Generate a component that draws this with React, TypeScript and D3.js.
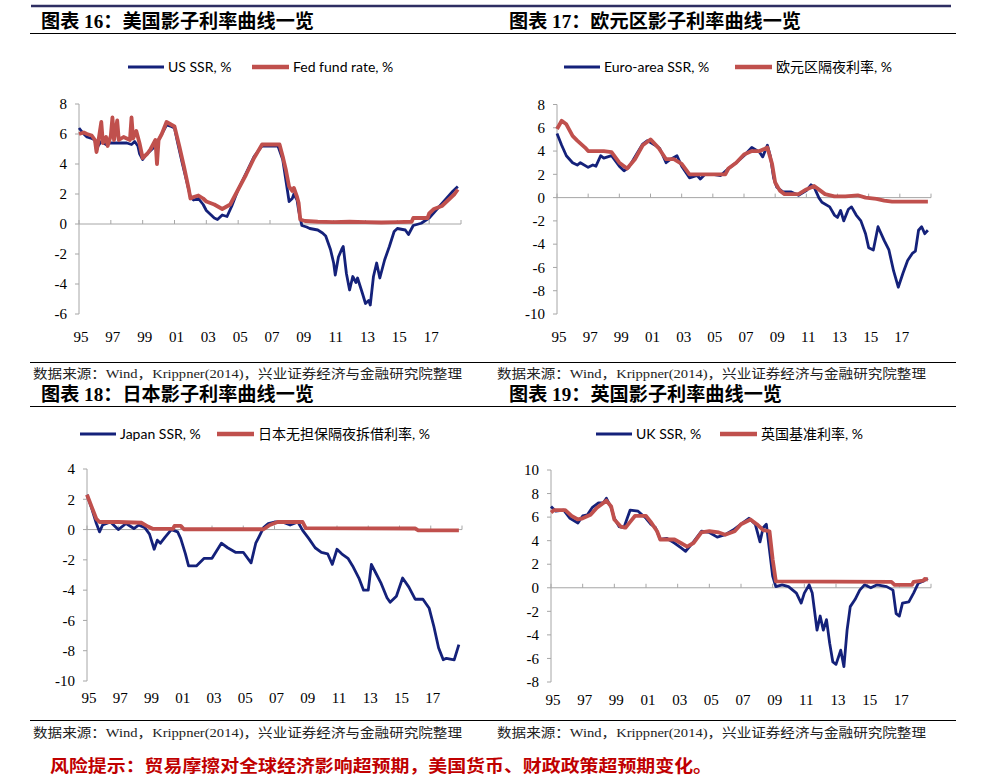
import React from "react";
import * as d3 from "d3";

type Pt = [number, number];

// ---------- DATA ----------
const yearTicks = [1995, 1997, 1999, 2001, 2003, 2005, 2007, 2009, 2011, 2013, 2015, 2017, 2019];
const yearLabels = ["95", "97", "99", "01", "03", "05", "07", "09", "11", "13", "15", "17", ""];

const usTicks = [8, 6, 4, 2, 0, -2, -4, -6];
const euTicks = [8, 6, 4, 2, 0, -2, -4, -6, -8, -10];
const jpTicks = [4, 2, 0, -2, -4, -6, -8, -10];
const ukTicks = [10, 8, 6, 4, 2, 0, -2, -4, -6, -8];

const usSSR: Pt[] = [
  [1995.0, 6.4], [1995.3, 6.0], [1995.5, 5.8], [1995.8, 5.7], [1996.0, 5.6], [1996.1, 4.9], [1996.2, 5.2],
  [1996.4, 5.5], [1996.7, 5.3], [1997.0, 5.4], [1997.5, 5.4], [1998.0, 5.4], [1998.3, 5.3], [1998.5, 5.5],
  [1998.7, 5.2], [1998.8, 4.7], [1999.0, 4.3], [1999.2, 4.6], [1999.5, 4.9], [1999.8, 5.2], [2000.0, 5.6],
  [2000.3, 6.2], [2000.5, 6.6], [2000.8, 6.5], [2001.0, 6.4], [2001.2, 5.4], [2001.5, 4.0], [2001.8, 2.7],
  [2002.0, 1.8], [2002.2, 1.6], [2002.5, 1.7], [2002.8, 1.3], [2003.0, 0.9], [2003.3, 0.6], [2003.5, 0.4],
  [2003.7, 0.3], [2004.0, 0.6], [2004.3, 0.5], [2004.6, 1.2], [2005.0, 2.3], [2005.5, 3.4], [2006.0, 4.5],
  [2006.5, 5.2], [2007.0, 5.2], [2007.5, 5.2], [2007.8, 4.3], [2008.0, 2.9], [2008.2, 1.5], [2008.4, 1.7],
  [2008.5, 2.0], [2008.7, 1.6], [2008.8, 0.9], [2009.0, -0.1], [2009.3, -0.2], [2009.5, -0.3], [2010.0, -0.4],
  [2010.3, -0.6], [2010.5, -0.8], [2010.8, -1.7], [2011.0, -2.6], [2011.1, -3.4], [2011.3, -2.2],
  [2011.5, -1.7], [2011.6, -1.5], [2011.8, -3.3], [2012.0, -4.4], [2012.2, -3.5], [2012.4, -3.9],
  [2012.5, -3.6], [2012.8, -4.6], [2013.0, -5.3], [2013.2, -5.1], [2013.3, -5.4], [2013.5, -3.5],
  [2013.7, -2.6], [2013.9, -3.6], [2014.2, -2.4], [2014.5, -1.5], [2014.8, -0.5], [2015.0, -0.3],
  [2015.5, -0.4], [2015.7, -0.7], [2016.0, -0.1], [2016.5, 0.05], [2017.0, 0.4], [2017.5, 1.0],
  [2018.0, 1.6], [2018.5, 2.2], [2018.8, 2.5],
];
const usFed: Pt[] = [
  [1995.0, 6.0], [1995.3, 6.1], [1995.5, 6.0], [1995.8, 5.9], [1996.0, 5.6], [1996.1, 4.8], [1996.2, 5.4],
  [1996.4, 6.8], [1996.5, 5.4], [1996.7, 5.8], [1996.8, 5.2], [1997.0, 5.9], [1997.1, 7.1], [1997.2, 5.6],
  [1997.4, 6.9], [1997.5, 5.6], [1997.8, 5.8], [1998.0, 5.7], [1998.2, 5.6], [1998.3, 7.1], [1998.4, 5.7],
  [1998.6, 6.2], [1998.8, 5.4], [1999.0, 4.4], [1999.3, 4.7], [1999.5, 5.0], [1999.8, 5.6], [1999.9, 4.0],
  [2000.0, 5.6], [2000.2, 6.0], [2000.5, 6.8], [2001.0, 6.5], [2001.3, 5.2], [2001.6, 3.8], [2001.9, 2.3],
  [2002.0, 1.7], [2002.2, 1.8], [2002.5, 1.9], [2002.8, 1.7], [2003.0, 1.5], [2003.5, 1.3], [2004.0, 1.0],
  [2004.5, 1.3], [2005.0, 2.3], [2005.5, 3.3], [2006.0, 4.4], [2006.5, 5.3], [2007.0, 5.3], [2007.6, 5.3],
  [2007.8, 4.5], [2008.0, 3.6], [2008.2, 2.5], [2008.4, 2.2], [2008.5, 2.4], [2008.7, 1.8], [2008.8, 1.4],
  [2008.9, 0.3], [2009.2, 0.2], [2010.0, 0.15], [2011.0, 0.12], [2012.0, 0.15], [2013.0, 0.12],
  [2014.0, 0.1], [2015.0, 0.12], [2015.9, 0.15], [2016.0, 0.4], [2016.9, 0.4], [2017.0, 0.7], [2017.3, 1.0],
  [2017.8, 1.2], [2018.0, 1.4], [2018.3, 1.7], [2018.6, 2.0], [2018.8, 2.3],
];

const euSSR: Pt[] = [
  [1995.0, 5.5], [1995.3, 4.5], [1995.6, 3.6], [1996.0, 3.0], [1996.3, 2.8], [1996.5, 3.0], [1997.0, 2.6],
  [1997.3, 2.8], [1997.5, 2.7], [1997.8, 3.6], [1998.0, 3.4], [1998.5, 3.6], [1999.0, 2.7], [1999.3, 2.3],
  [1999.6, 2.6], [2000.0, 3.5], [2000.5, 4.6], [2000.8, 4.9], [2001.3, 4.5], [2001.6, 4.2], [2002.0, 3.0],
  [2002.3, 3.3], [2002.7, 3.6], [2003.0, 2.7], [2003.5, 1.7], [2004.0, 1.9], [2004.2, 1.6], [2004.5, 2.0],
  [2005.0, 2.0], [2005.5, 1.9], [2006.0, 2.5], [2006.5, 3.0], [2007.0, 3.6], [2007.5, 4.3], [2008.0, 3.9],
  [2008.2, 3.5], [2008.5, 4.5], [2008.7, 3.5], [2008.9, 1.7], [2009.1, 0.9], [2009.5, 0.5], [2010.0, 0.5],
  [2010.5, 0.2], [2011.0, 0.6], [2011.3, 1.1], [2011.5, 0.9], [2011.8, 0.0], [2012.0, -0.4], [2012.5, -0.8],
  [2012.8, -1.5], [2013.0, -1.7], [2013.2, -1.1], [2013.4, -2.0], [2013.7, -1.0], [2013.9, -0.8],
  [2014.2, -1.5], [2014.5, -2.0], [2014.8, -3.1], [2015.0, -4.3], [2015.3, -4.5], [2015.6, -2.5],
  [2016.0, -3.7], [2016.3, -4.5], [2016.6, -6.3], [2016.9, -7.7], [2017.2, -6.5], [2017.5, -5.4],
  [2017.8, -4.8], [2018.0, -4.6], [2018.2, -2.8], [2018.4, -2.5], [2018.6, -3.1], [2018.8, -2.8],
];
const euON: Pt[] = [
  [1995.0, 5.9], [1995.3, 6.6], [1995.6, 6.3], [1996.0, 5.3], [1996.3, 4.9], [1996.8, 4.3], [1997.0, 4.0],
  [1997.5, 4.0], [1998.0, 4.0], [1998.5, 3.9], [1999.0, 3.0], [1999.5, 2.5], [2000.0, 3.3], [2000.5, 4.5],
  [2001.0, 5.0], [2001.5, 4.3], [2002.0, 3.3], [2002.5, 3.3], [2003.0, 2.9], [2003.5, 2.0], [2004.0, 2.0],
  [2005.0, 2.0], [2005.8, 2.0], [2006.0, 2.5], [2006.5, 3.0], [2007.0, 3.7], [2007.5, 4.0], [2008.0, 4.0],
  [2008.5, 4.3], [2008.8, 2.9], [2009.0, 1.3], [2009.3, 0.6], [2009.6, 0.3], [2010.5, 0.3], [2011.0, 0.7],
  [2011.5, 1.0], [2011.9, 0.6], [2012.2, 0.3], [2012.8, 0.1], [2013.5, 0.1], [2014.3, 0.2], [2014.8, 0.0],
  [2015.5, -0.1], [2016.0, -0.25], [2016.5, -0.35], [2017.5, -0.35], [2018.8, -0.35],
];

const jpSSR: Pt[] = [
  [1995.0, 2.3], [1995.3, 1.4], [1995.6, 0.4], [1995.8, -0.15], [1996.0, 0.3], [1996.5, 0.5], [1997.0, 0.0],
  [1997.5, 0.4], [1998.0, 0.07], [1998.3, 0.3], [1998.7, 0.13], [1999.0, -0.3], [1999.3, -1.3], [1999.5, -0.7],
  [1999.7, -0.9], [2000.0, -0.5], [2000.4, 0.0], [2000.8, -0.15], [2001.0, -0.6], [2001.3, -1.6],
  [2001.5, -2.4], [2002.0, -2.4], [2002.5, -1.9], [2003.0, -1.9], [2003.3, -1.4], [2003.6, -0.9],
  [2004.0, -1.2], [2004.5, -1.5], [2005.0, -1.5], [2005.5, -2.2], [2005.8, -0.9], [2006.0, -0.5],
  [2006.3, 0.13], [2006.6, 0.4], [2007.0, 0.5], [2007.5, 0.5], [2008.0, 0.3], [2008.5, 0.5], [2008.8, -0.05],
  [2009.2, -0.6], [2009.6, -1.2], [2010.0, -1.5], [2010.4, -1.6], [2010.7, -2.3], [2011.0, -1.3],
  [2011.3, -1.6], [2011.7, -1.9], [2012.0, -2.4], [2012.4, -3.2], [2012.7, -4.0], [2013.0, -4.0],
  [2013.2, -2.3], [2013.5, -2.9], [2013.8, -3.5], [2014.2, -4.5], [2014.4, -4.8], [2014.8, -4.4],
  [2015.2, -3.2], [2015.6, -3.8], [2016.0, -4.6], [2016.5, -4.6], [2016.9, -5.2], [2017.2, -6.4],
  [2017.5, -7.8], [2017.8, -8.6], [2018.0, -8.5], [2018.5, -8.6], [2018.8, -7.6],
];
const jpON: Pt[] = [
  [1995.0, 2.3], [1995.3, 1.5], [1995.6, 0.7], [1995.8, 0.5], [1997.0, 0.5], [1998.5, 0.45], [1998.9, 0.2],
  [1999.2, 0.05], [2000.5, 0.05], [2000.6, 0.25], [2001.0, 0.25], [2001.2, 0.02], [2006.3, 0.02],
  [2006.7, 0.3], [2007.2, 0.5], [2008.8, 0.5], [2009.0, 0.1], [2016.0, 0.07], [2016.2, -0.05], [2018.8, -0.05],
];

const ukSSR: Pt[] = [
  [1995.0, 6.9], [1995.3, 6.5], [1995.8, 6.6], [1996.2, 5.9], [1996.7, 5.5], [1997.0, 6.1], [1997.3, 6.2],
  [1997.6, 6.8], [1998.0, 7.2], [1998.3, 7.2], [1998.5, 7.6], [1998.8, 6.8], [1999.0, 5.9], [1999.3, 5.2],
  [1999.6, 5.1], [2000.0, 6.6], [2000.5, 6.5], [2001.0, 5.9], [2001.3, 5.4], [2001.6, 5.1], [2001.9, 4.1],
  [2002.3, 4.2], [2002.8, 3.8], [2003.2, 3.4], [2003.5, 3.1], [2004.0, 3.9], [2004.5, 4.8], [2005.0, 4.7],
  [2005.5, 4.3], [2006.0, 4.5], [2006.5, 4.9], [2007.0, 5.4], [2007.5, 5.9], [2007.9, 5.4], [2008.2, 3.9],
  [2008.4, 5.1], [2008.6, 5.4], [2008.8, 3.2], [2009.0, 1.0], [2009.2, 0.1], [2009.6, 0.25], [2010.0, 0.1],
  [2010.5, -0.45], [2010.8, -1.3], [2011.0, -0.45], [2011.3, 0.25], [2011.5, -0.45], [2011.8, -3.6],
  [2012.0, -2.4], [2012.2, -3.6], [2012.4, -2.7], [2012.6, -4.7], [2012.8, -6.3], [2013.0, -6.5],
  [2013.3, -5.3], [2013.5, -6.7], [2013.7, -3.6], [2013.9, -1.6], [2014.2, -1.0], [2014.5, -0.2],
  [2014.8, 0.25], [2015.2, 0.0], [2015.6, 0.25], [2016.2, 0.1], [2016.6, -0.2], [2016.8, -2.2],
  [2017.0, -2.4], [2017.2, -1.3], [2017.6, -1.2], [2017.9, -0.45], [2018.2, 0.4], [2018.5, 0.55], [2018.8, 0.8],
];
const ukBase: Pt[] = [
  [1995.0, 6.4], [1995.2, 6.6], [1995.9, 6.6], [1996.3, 6.1], [1996.7, 5.8], [1997.0, 5.9], [1997.5, 6.2],
  [1997.9, 6.8], [1998.5, 7.4], [1998.8, 6.9], [1999.0, 5.8], [1999.4, 5.2], [1999.7, 5.1], [2000.0, 5.6],
  [2000.3, 6.1], [2001.0, 6.1], [2001.3, 5.6], [2001.7, 4.8], [2001.9, 4.1], [2002.8, 4.1], [2003.2, 3.8],
  [2003.6, 3.5], [2004.0, 3.8], [2004.5, 4.7], [2005.0, 4.8], [2005.6, 4.7], [2006.0, 4.5], [2006.6, 4.8],
  [2007.0, 5.4], [2007.6, 5.8], [2008.0, 5.4], [2008.4, 4.9], [2008.8, 4.8], [2009.0, 2.4], [2009.2, 0.55],
  [2016.5, 0.5], [2016.7, 0.25], [2017.8, 0.25], [2017.9, 0.5], [2018.5, 0.6], [2018.6, 0.75], [2018.8, 0.7],
];

// ---------- STYLE / LAYOUT ----------
const NAVY = "#14217a";
const RED = "#c0504d";
const AXIS = "#a6a6a6";
const SERIF = "'Liberation Serif','Times New Roman','Noto Sans CJK SC',serif";
const SANS = "Lato,'Noto Sans CJK SC',sans-serif";
const TITLE_FONT = "'Liberation Serif','Noto Sans CJK SC',serif";

type PanelProps = {
  x0: number; x1: number; yTopPx: number; yBotPx: number;
  yTicks: number[]; a: Pt[]; b: Pt[];
  legA: string; legB: string; legY: number;
  legAx: number; legBx: number; labelY: number;
};

function Panel(p: PanelProps) {
  const x = d3.scaleLinear().domain([1995, 2019]).range([p.x0, p.x1]);
  const yMax = d3.max(p.yTicks) as number;
  const yMin = d3.min(p.yTicks) as number;
  const y = d3.scaleLinear().domain([yMin, yMax]).range([p.yBotPx, p.yTopPx]);
  const line = d3.line<Pt>().x((d) => x(d[0])).y((d) => y(d[1])).curve(d3.curveLinear);
  const y0 = y(0);
  return (
    <g>
      {/* legend */}
      <line x1={p.legAx} x2={p.legAx + 36} y1={p.legY} y2={p.legY} stroke={NAVY} strokeWidth={2.8} />
      <text x={p.legAx + 40} y={p.legY} dy="0.35em" fontFamily={SANS} fontSize={14} fill="#000">{p.legA}</text>
      <line x1={p.legBx} x2={p.legBx + 37} y1={p.legY} y2={p.legY} stroke={RED} strokeWidth={4.5} />
      <text x={p.legBx + 41} y={p.legY} dy="0.35em" fontFamily={SANS} fontSize={14} fill="#000">{p.legB}</text>
      {/* y axis */}
      <line x1={p.x0} x2={p.x0} y1={y(yMax)} y2={y(yMin)} stroke={AXIS} strokeWidth={1} />
      {p.yTicks.map((t) => (
        <g key={t}>
          <line x1={p.x0 - 4} x2={p.x0} y1={y(t)} y2={y(t)} stroke={AXIS} />
          <text x={p.x0 - 12} y={y(t)} dy="0.35em" textAnchor="end" fontFamily={SERIF} fontSize={15} fill="#000">{t}</text>
        </g>
      ))}
      {/* x axis at zero */}
      <line x1={p.x0} x2={p.x1} y1={y0} y2={y0} stroke={AXIS} strokeWidth={1} />
      {yearTicks.map((t, i) => (
        <g key={t}>
          <line x1={x(t)} x2={x(t)} y1={y0 - 4} y2={y0} stroke={AXIS} />
          <text x={x(t) + 2} y={p.labelY} dy="0.35em" textAnchor="middle" fontFamily={SERIF} fontSize={15} fill="#000">{yearLabels[i]}</text>
        </g>
      ))}
      <path d={line(p.a) || ""} fill="none" stroke={NAVY} strokeWidth={2.8} strokeLinejoin="round" />
      <path d={line(p.b) || ""} fill="none" stroke={RED} strokeWidth={3.8} strokeLinejoin="round" />
    </g>
  );
}

const SOURCE = "数据来源：Wind，Krippner(2014)，兴业证券经济与金融研究院整理";

export default function App() {
  return (
    <svg width={988} height={783} style={{ position: "absolute", left: 0, top: 0, background: "#fff" }}>
      <rect x={0} y={0} width={988} height={783} fill="#fff" />
      {/* top rule */}
      <line x1={31} x2={951} y1={6} y2={6} stroke="#2e2e62" strokeWidth={2.5} />
      <text x={41} y={21} dy="0.35em" fontFamily={TITLE_FONT} fontWeight="bold" fontSize={19} textLength={273} lengthAdjust="spacingAndGlyphs">图表 16：美国影子利率曲线一览</text>
      <text x={509} y={21} dy="0.35em" fontFamily={TITLE_FONT} fontWeight="bold" fontSize={19} textLength={292} lengthAdjust="spacingAndGlyphs">图表 17：欧元区影子利率曲线一览</text>
      <line x1={30} x2={956} y1={33.5} y2={33.5} stroke="#000" strokeWidth={1} />

      <Panel x0={79} x1={461} yTopPx={104} yBotPx={314} yTicks={usTicks} a={usSSR} b={usFed}
        legA="US SSR, %" legB="Fed fund rate, %" legY={67} legAx={128} legBx={252} labelY={337} />
      <Panel x0={557} x1={931} yTopPx={104.5} yBotPx={314} yTicks={euTicks} a={euSSR} b={euON}
        legA="Euro-area SSR, %" legB="欧元区隔夜利率, %" legY={67} legAx={564} legBx={735} labelY={337} />

      <line x1={30} x2={956} y1={362.5} y2={362.5} stroke="#000" strokeWidth={1} />
      <text x={33} y={373} dy="0.35em" fontFamily={TITLE_FONT} fontSize={13} fill="#222" textLength={429} lengthAdjust="spacingAndGlyphs">{SOURCE}</text>
      <text x={497} y={373} dy="0.35em" fontFamily={TITLE_FONT} fontSize={13} fill="#222" textLength={429} lengthAdjust="spacingAndGlyphs">{SOURCE}</text>
      <text x={41} y={394} dy="0.35em" fontFamily={TITLE_FONT} fontWeight="bold" fontSize={19} textLength={273} lengthAdjust="spacingAndGlyphs">图表 18：日本影子利率曲线一览</text>
      <text x={509} y={394} dy="0.35em" fontFamily={TITLE_FONT} fontWeight="bold" fontSize={19} textLength={273} lengthAdjust="spacingAndGlyphs">图表 19：英国影子利率曲线一览</text>
      <line x1={30} x2={956} y1={406.5} y2={406.5} stroke="#000" strokeWidth={1} />

      <Panel x0={87} x1={462} yTopPx={469} yBotPx={681} yTicks={jpTicks} a={jpSSR} b={jpON}
        legA="Japan SSR, %" legB="日本无担保隔夜拆借利率, %" legY={434} legAx={80} legBx={217} labelY={698} />
      <Panel x0={551} x1={931} yTopPx={470} yBotPx={682} yTicks={ukTicks} a={ukSSR} b={ukBase}
        legA="UK SSR, %" legB="英国基准利率, %" legY={434} legAx={596} legBx={720} labelY={700} />

      <line x1={30} x2={956} y1={720.5} y2={720.5} stroke="#000" strokeWidth={1} />
      <text x={33} y={732} dy="0.35em" fontFamily={TITLE_FONT} fontSize={13} fill="#222" textLength={429} lengthAdjust="spacingAndGlyphs">{SOURCE}</text>
      <text x={497} y={732} dy="0.35em" fontFamily={TITLE_FONT} fontSize={13} fill="#222" textLength={429} lengthAdjust="spacingAndGlyphs">{SOURCE}</text>
      <text x={50} y={766} dy="0.35em" fontFamily={TITLE_FONT} fontWeight="bold" fontSize={17} fill="#c00000" textLength={662} lengthAdjust="spacingAndGlyphs">风险提示：贸易摩擦对全球经济影响超预期，美国货币、财政政策超预期变化。</text>
    </svg>
  );
}
